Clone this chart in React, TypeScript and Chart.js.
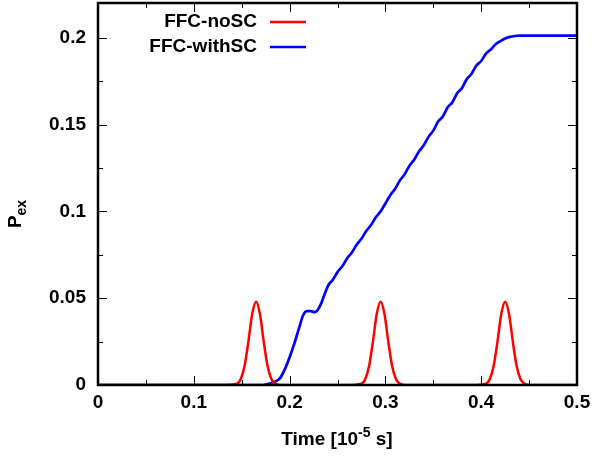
import React, { useEffect, useRef } from "react";
import { Chart, registerables } from "chart.js";

Chart.register(...registerables);

const redX = [0, 0.13, 0.145, 0.149, 0.153, 0.157, 0.161, 0.165, 0.169, 0.173, 0.177, 0.181, 0.185, 0.19, 0.2,
  0.26, 0.275, 0.279, 0.283, 0.287, 0.291, 0.295, 0.299, 0.303, 0.307, 0.311, 0.315, 0.32, 0.33,
  0.39, 0.405, 0.409, 0.413, 0.417, 0.421, 0.425, 0.429, 0.433, 0.437, 0.441, 0.445, 0.45, 0.46, 0.5];
const redY = [0, 0, 0.0008, 0.0035, 0.011, 0.025, 0.041, 0.048, 0.041, 0.025, 0.011, 0.0035, 0.0008, 0, 0,
  0, 0.0008, 0.0035, 0.011, 0.025, 0.041, 0.048, 0.041, 0.025, 0.011, 0.0035, 0.0008, 0, 0,
  0, 0.0008, 0.0035, 0.011, 0.025, 0.041, 0.048, 0.041, 0.025, 0.011, 0.0035, 0.0008, 0, 0, 0];

const blueX = [0, 0.17, 0.175, 0.18, 0.185, 0.19, 0.195, 0.2, 0.205, 0.21, 0.214, 0.218, 0.222, 0.226, 0.229, 0.233,
  0.237, 0.241, 0.245, 0.25, 0.255, 0.26, 0.265, 0.27, 0.275, 0.28, 0.285, 0.29, 0.295, 0.3, 0.305, 0.31, 0.315,
  0.32, 0.325, 0.33, 0.335, 0.34, 0.345, 0.35, 0.355, 0.36, 0.365, 0.37, 0.375, 0.38, 0.385, 0.39, 0.395, 0.4,
  0.405, 0.41, 0.415, 0.42, 0.425, 0.43, 0.435, 0.44, 0.5];
const blueY = [0, 0, 0.0003, 0.001, 0.002, 0.004, 0.009, 0.016, 0.024, 0.033, 0.04, 0.0425, 0.0425, 0.042, 0.043, 0.047,
  0.053, 0.058, 0.0605, 0.065, 0.0684, 0.0729, 0.0763, 0.0808, 0.0842, 0.0887, 0.0921, 0.0966, 0.1, 0.1045, 0.1093, 0.1129, 0.1177,
  0.1213, 0.1261, 0.1297, 0.1345, 0.1381, 0.1429, 0.1465, 0.1517, 0.1547, 0.1599, 0.1629, 0.1681, 0.1711, 0.1763, 0.1793, 0.184, 0.1866,
  0.1908, 0.1932, 0.1962, 0.198, 0.1996, 0.2005, 0.201, 0.2012, 0.2012];

const seriesNames = ["FFC-noSC", "FFC-withSC"];
const xMajor = [0, 0.1, 0.2, 0.3, 0.4, 0.5];
const xMinor = [0.05, 0.15, 0.25, 0.35, 0.45];
const yMajor = [0, 0.05, 0.1, 0.15, 0.2];
const yMinor = [0.025, 0.075, 0.125, 0.175];

const FONT = "'Liberation Sans', Arial, sans-serif";
const FS = 19;
const FSS = 14;

const framePlugin = {
  id: "frame",
  afterDatasetsDraw(chart: any) {
    const { ctx, chartArea: a, scales } = chart;
    const xs = scales.x, ys = scales.y;
    ctx.save();
    ctx.strokeStyle = "#000";
    ctx.lineWidth = 1;
    const tick = (x1: number, y1: number, x2: number, y2: number) => {
      ctx.beginPath(); ctx.moveTo(x1, y1); ctx.lineTo(x2, y2); ctx.stroke();
    };
    xMajor.forEach((v) => { const p = Math.round(xs.getPixelForValue(v)) + 0.5; tick(p, a.bottom, p, a.bottom - 9); tick(p, a.top, p, a.top + 9); });
    xMinor.forEach((v) => { const p = Math.round(xs.getPixelForValue(v)) + 0.5; tick(p, a.bottom, p, a.bottom - 5); tick(p, a.top, p, a.top + 5); });
    yMajor.forEach((v) => { const p = Math.round(ys.getPixelForValue(v)) + 0.5; tick(a.left, p, a.left + 9, p); tick(a.right, p, a.right - 9, p); });
    yMinor.forEach((v) => { const p = Math.round(ys.getPixelForValue(v)) + 0.5; tick(a.left, p, a.left + 5, p); tick(a.right, p, a.right - 5, p); });
    ctx.lineWidth = 2.5;
    ctx.strokeRect(a.left, a.top, a.right - a.left, a.bottom - a.top);

    // legend
    ctx.font = `bold ${FS}px ${FONT}`;
    ctx.textAlign = "right";
    ctx.textBaseline = "middle";
    ctx.fillStyle = "#000";
    const colors = ["rgb(255,0,0)", "rgb(0,0,255)"];
    seriesNames.forEach((n, i) => {
      const y = 22 + i * 25;
      ctx.fillText(n, 257, y);
      ctx.strokeStyle = colors[i];
      ctx.lineWidth = 2.5;
      tick(270, y, 306, y);
    });

    // x title
    ctx.textBaseline = "alphabetic";
    ctx.textAlign = "left";
    const t1 = "Time [10", t2 = "-5", t3 = " s]";
    ctx.font = `bold ${FS}px ${FONT}`;
    const w1 = ctx.measureText(t1).width, w3 = ctx.measureText(t3).width;
    ctx.font = `bold ${FSS}px ${FONT}`;
    const w2 = ctx.measureText(t2).width;
    const x0 = 337 - (w1 + w2 + w3) / 2;
    const by = 445;
    ctx.font = `bold ${FS}px ${FONT}`;
    ctx.fillText(t1, x0, by);
    ctx.font = `bold ${FSS}px ${FONT}`;
    ctx.fillText(t2, x0 + w1, by - 8);
    ctx.font = `bold ${FS}px ${FONT}`;
    ctx.fillText(t3, x0 + w1 + w2, by);

    // y title
    ctx.save();
    ctx.translate(21, 214);
    ctx.rotate(-Math.PI / 2);
    ctx.font = `bold ${FS}px ${FONT}`;
    const pw = ctx.measureText("P").width;
    ctx.font = `bold ${FSS}px ${FONT}`;
    const ew = ctx.measureText("ex").width;
    const sx = -(pw + ew) / 2;
    ctx.font = `bold ${FS}px ${FONT}`;
    ctx.fillText("P", sx, 0);
    ctx.font = `bold ${FSS}px ${FONT}`;
    ctx.fillText("ex", sx + pw, 5);
    ctx.restore();
    ctx.restore();
  },
};

const fmt = (v: any) => String(Number(Number(v).toFixed(3)));

export default function App() {
  const ref = useRef<HTMLCanvasElement>(null);
  useEffect(() => {
    document.body.style.margin = "0";
    const red = redX.map((x, i) => ({ x, y: redY[i] }));
    const blue = blueX.map((x, i) => ({ x, y: blueY[i] }));
    const chart = new Chart(ref.current!, {
      type: "line",
      data: {
        datasets: [
          { label: seriesNames[0], data: red, borderColor: "rgb(255,0,0)", borderWidth: 2.5, pointRadius: 0, cubicInterpolationMode: "monotone", fill: false },
          { label: seriesNames[1], data: blue, borderColor: "rgb(0,0,255)", borderWidth: 2.7, pointRadius: 0, cubicInterpolationMode: "monotone", fill: false },
        ],
      },
      options: {
        animation: false,
        responsive: false,
        layout: { padding: { top: 3, right: 16, left: 0, bottom: 0 } },
        plugins: { legend: { display: false }, tooltip: { enabled: false } },
        scales: {
          x: {
            type: "linear", min: 0, max: 0.5,
            grid: { display: false, drawTicks: false },
            border: { display: false },
            afterBuildTicks: (s: any) => { s.ticks = xMajor.map((v) => ({ value: v })); },
            afterFit: (s: any) => { s.height = 71; s.paddingLeft = 0; s.paddingRight = 0; },
            ticks: { padding: 6, color: "#000", font: { family: FONT, size: FS, weight: "bold" }, callback: fmt },
          },
          y: {
            type: "linear", min: 0, max: 0.22,
            grid: { display: false, drawTicks: false },
            border: { display: false },
            afterBuildTicks: (s: any) => { s.ticks = yMajor.map((v) => ({ value: v })); },
            afterFit: (s: any) => { s.width = 98; s.paddingTop = 0; s.paddingBottom = 0; },
            ticks: { padding: 12, color: "#000", font: { family: FONT, size: FS, weight: "bold" }, callback: fmt },
          },
        },
      },
      plugins: [framePlugin],
    } as any);
    return () => chart.destroy();
  }, []);
  return (
    <div style={{ position: "absolute", left: 0, top: 0, width: 593, height: 456, background: "#fff" }}>
      <canvas ref={ref} width={593} height={456} style={{ width: 593, height: 456 }} />
    </div>
  );
}
